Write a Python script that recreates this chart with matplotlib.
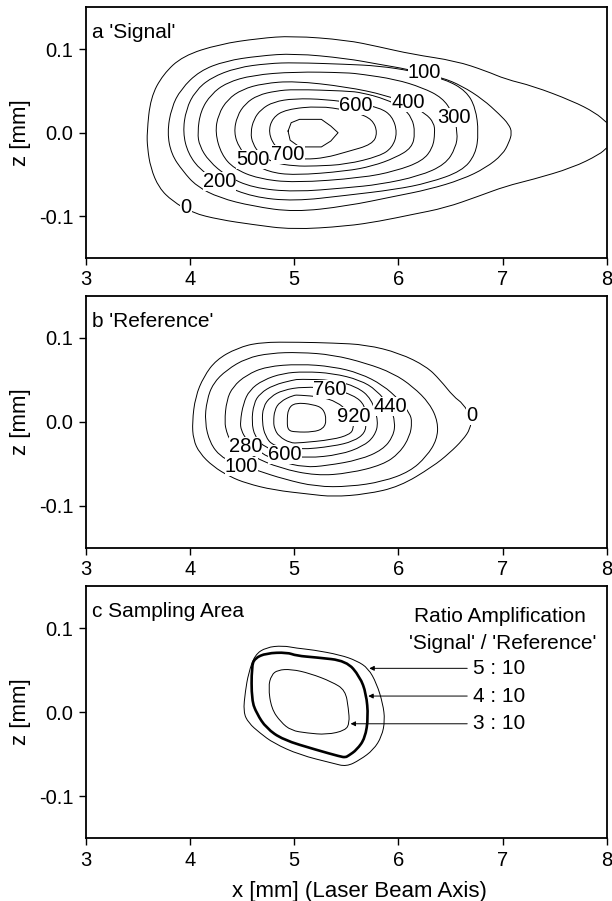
import numpy as np
import matplotlib
matplotlib.use("Agg")
import matplotlib.pyplot as plt
from matplotlib.path import Path
from matplotlib.patches import PathPatch

plt.rcParams['font.family'] = ['Liberation Sans', 'DejaVu Sans']

# ---- panel a : 'Signal' contours (x [mm], z [mm]) ----
sig_levels = [0, 100, 200, 300, 400, 500, 600, 700, 800]
sig_x = [
    [8.0, 7.89, 7.67, 7.29, 7.03, 6.84, 6.55, 6.13, 5.81, 5.50, 4.98, 4.66, 4.28, 3.93, 3.74, 3.62, 3.585,
     3.59, 3.62, 3.70, 3.83, 4.02, 4.28, 4.60, 4.98, 5.50, 5.82, 6.13, 6.45, 6.77, 7.03, 7.29, 7.67, 7.93, 8.0],
    [3.78, 3.82, 3.91, 4.09, 4.34, 4.66, 5.0, 5.5, 5.81, 6.09, 6.42, 6.61, 6.81, 6.97, 7.06, 7.09, 7.06, 7.0,
     6.84, 6.61, 6.29, 5.97, 5.5, 5.0, 4.6, 4.28, 4.06, 3.93, 3.82, 3.78],
    [3.93, 3.96, 4.05, 4.2, 4.45, 4.75, 5.0, 5.5, 5.81, 6.13, 6.45, 6.65, 6.74, 6.77, 6.74, 6.61, 6.29, 5.97,
     5.5, 5.0, 4.6, 4.3, 4.1, 3.98, 3.93],
    [4.07, 4.1, 4.2, 4.35, 4.6, 5.0, 5.5, 5.65, 5.97, 6.23, 6.42, 6.52, 6.57, 6.55, 6.45, 6.2, 5.82, 5.5, 5.0,
     4.6, 4.35, 4.18, 4.09, 4.07],
    [4.24, 4.27, 4.36, 4.5, 4.7, 5.0, 5.5, 5.88, 6.1, 6.26, 6.34, 6.35, 6.33, 6.23, 5.97, 5.65, 5.0, 4.65, 4.42,
     4.3, 4.24],
    [4.42, 4.45, 4.53, 4.65, 4.82, 5.0, 5.5, 5.65, 5.88, 6.04, 6.13, 6.16, 6.13, 5.97, 5.75, 5.5, 5.0, 4.75,
     4.58, 4.47, 4.42],
    [4.58, 4.61, 4.68, 4.8, 5.0, 5.3, 5.6, 5.82, 5.94, 5.99, 5.94, 5.82, 5.5, 5.2, 5.0, 4.8, 4.67, 4.6, 4.58],
    [4.75, 4.79, 4.92, 5.24, 5.5, 5.6, 5.75, 5.80, 5.75, 5.5, 5.3, 5.1, 4.95, 4.82, 4.75],
    [4.94, 4.97, 5.05, 5.26, 5.35, 5.42, 5.35, 5.26, 5.05, 4.96, 4.94],
]
sig_z = [
    [0.012, 0.024, 0.038, 0.056, 0.064, 0.074, 0.086, 0.094, 0.103, 0.111, 0.116, 0.113, 0.106, 0.092, 0.070,
     0.042, 0.0, -0.018, -0.042, -0.066, -0.082, -0.096, -0.104, -0.110, -0.116, -0.112, -0.106, -0.098,
     -0.090, -0.076, -0.064, -0.056, -0.042, -0.026, -0.018],
    [0.0, 0.03, 0.052, 0.074, 0.086, 0.092, 0.095, 0.089, 0.082, 0.076, 0.066, 0.056, 0.04, 0.022, 0.01, 0.0,
     -0.012, -0.026, -0.042, -0.056, -0.068, -0.076, -0.088, -0.095, -0.088, -0.078, -0.064, -0.046, -0.026, 0.0],
    [0.0, 0.028, 0.05, 0.066, 0.078, 0.083, 0.084, 0.082, 0.080, 0.074, 0.064, 0.05, 0.03, 0.0, -0.026, -0.046,
     -0.060, -0.068, -0.075, -0.082, -0.077, -0.062, -0.045, -0.025, 0.0],
    [0.0, 0.026, 0.046, 0.06, 0.069, 0.073, 0.072, 0.070, 0.064, 0.054, 0.042, 0.024, 0.0, -0.018, -0.038,
     -0.052, -0.062, -0.066, -0.071, -0.066, -0.052, -0.034, -0.016, 0.0],
    [0.0, 0.022, 0.04, 0.052, 0.059, 0.062, 0.055, 0.045, 0.034, 0.023, 0.012, 0.0, -0.018, -0.034, -0.046,
     -0.054, -0.060, -0.055, -0.043, -0.026, 0.0],
    [0.0, 0.02, 0.035, 0.045, 0.05, 0.052, 0.05, 0.048, 0.04, 0.03, 0.018, 0.0, -0.018, -0.03, -0.04, -0.046,
     -0.051, -0.047, -0.035, -0.018, 0.0],
    [0.0, 0.016, 0.028, 0.037, 0.041, 0.04, 0.035, 0.03, 0.02, 0.0, -0.018, -0.028, -0.038, -0.040, -0.040,
     -0.036, -0.026, -0.013, 0.0],
    [0.0, 0.018, 0.028, 0.032, 0.027, 0.024, 0.016, 0.0, -0.014, -0.023, -0.030, -0.032, -0.03, -0.018, 0.0],
    [0.002, 0.012, 0.016, 0.016, 0.008, 0.0, -0.01, -0.017, -0.017, -0.009, 0.002],
]

# ---- panel b : 'Reference' contours ----
ref_levels = [0, 100, 280, 440, 600, 760, 920, 1080]
ref_x = [
    [4.02, 4.05, 4.13, 4.25, 4.45, 4.67, 5.05, 5.37, 5.69, 6.01, 6.27, 6.40, 6.53, 6.62, 6.70, 6.69, 6.62,
     6.49, 6.33, 6.01, 5.69, 5.37, 5.15, 4.80, 4.54, 4.38, 4.22, 4.09, 4.03, 4.02],
    [4.14, 4.16, 4.22, 4.35, 4.54, 4.77, 5.05, 5.37, 5.69, 5.95, 6.14, 6.30, 6.38, 6.37, 6.27, 6.11, 5.85,
     5.53, 5.21, 4.90, 4.65, 4.40, 4.29, 4.19, 4.14],
    [4.33, 4.35, 4.41, 4.54, 4.73, 5.05, 5.37, 5.63, 5.85, 6.01, 6.11, 6.13, 6.11, 6.01, 5.85, 5.53, 5.21,
     4.86, 4.60, 4.45, 4.38, 4.35, 4.33],
    [4.48, 4.51, 4.57, 4.70, 4.89, 5.10, 5.37, 5.63, 5.79, 5.92, 5.97, 5.95, 5.85, 5.63, 5.31, 5.10, 4.86,
     4.67, 4.54, 4.49, 4.48],
    [4.59, 4.61, 4.67, 4.80, 4.99, 5.05, 5.37, 5.60, 5.74, 5.81, 5.77, 5.66, 5.44, 5.12, 4.91, 4.70, 4.62, 4.59],
    [4.69, 4.70, 4.77, 4.89, 5.09, 5.35, 5.57, 5.68, 5.69, 5.68, 5.57, 5.37, 5.05, 4.80, 4.72, 4.69],
    [4.80, 4.81, 4.86, 4.99, 5.05, 5.25, 5.41, 5.52, 5.56, 5.57, 5.53, 5.37, 5.05, 4.96, 4.85, 4.81, 4.80],
    [4.93, 4.94, 5.01, 5.18, 5.28, 5.31, 5.28, 5.18, 5.01, 4.94, 4.93],
]
ref_z = [
    [0.0, 0.03, 0.054, 0.074, 0.088, 0.095, 0.095, 0.094, 0.092, 0.082, 0.066, 0.05, 0.03, 0.022, 0.005,
     -0.008, -0.021, -0.037, -0.053, -0.077, -0.086, -0.089, -0.086, -0.081, -0.073, -0.065, -0.053, -0.037,
     -0.021, 0.0],
    [0.0, 0.026, 0.046, 0.062, 0.076, 0.082, 0.083, 0.080, 0.070, 0.058, 0.042, 0.022, 0.0, -0.021, -0.041,
     -0.059, -0.071, -0.077, -0.077, -0.068, -0.058, -0.047, -0.041, -0.025, 0.0],
    [0.0, 0.026, 0.042, 0.056, 0.066, 0.069, 0.066, 0.058, 0.044, 0.026, 0.010, 0.0, -0.017, -0.037, -0.051,
     -0.061, -0.064, -0.055, -0.041, -0.029, -0.021, -0.012, 0.0],
    [0.0, 0.022, 0.038, 0.050, 0.058, 0.060, 0.058, 0.050, 0.038, 0.018, 0.0, -0.017, -0.033, -0.045, -0.052,
     -0.054, -0.047, -0.037, -0.021, -0.01, 0.0],
    [0.0, 0.022, 0.034, 0.044, 0.050, 0.051, 0.050, 0.042, 0.028, 0.0, -0.017, -0.029, -0.039, -0.043, -0.039,
     -0.029, -0.017, 0.0],
    [0.0, 0.018, 0.030, 0.038, 0.042, 0.040, 0.032, 0.020, 0.0, -0.013, -0.023, -0.029, -0.033, -0.029,
     -0.017, 0.0],
    [0.0, 0.014, 0.024, 0.032, 0.032, 0.030, 0.024, 0.012, 0.002, -0.008, -0.015, -0.021, -0.025, -0.025,
     -0.017, -0.008, 0.0],
    [0.0, 0.016, 0.023, 0.021, 0.016, 0.002, -0.008, -0.012, -0.012, -0.010, 0.0],
]

# ---- panel c : sampling area for the amplification ratios ----
ratio_labels = ['5 : 10', '4 : 10', '3 : 10']
area_x = [
    [4.51, 4.53, 4.56, 4.62, 4.73, 4.89, 5.02, 5.18, 5.44, 5.60, 5.71, 5.79, 5.85, 5.87, 5.84, 5.76, 5.63,
     5.50, 5.37, 5.05, 4.80, 4.67, 4.56, 4.51],
    [4.59, 4.59, 4.62, 4.73, 4.93, 5.02, 5.21, 5.50, 5.63, 5.69, 5.71, 5.68, 5.60, 5.52, 5.49, 5.44, 5.21,
     4.89, 4.73, 4.64, 4.59],
    [4.75, 4.78, 4.84, 4.97, 5.15, 5.36, 5.49, 5.52, 5.53, 5.49, 5.31, 5.12, 4.97, 4.87, 4.78, 4.75],
]
area_z = [
    [0.0, 0.025, 0.046, 0.068, 0.077, 0.079, 0.076, 0.074, 0.068, 0.061, 0.052, 0.034, 0.010, -0.010, -0.029,
     -0.045, -0.057, -0.065, -0.061, -0.051, -0.037, -0.025, -0.013, 0.0],
    [0.014, 0.054, 0.064, 0.070, 0.071, 0.067, 0.065, 0.061, 0.042, 0.022, -0.006, -0.031, -0.045, -0.052,
     -0.054, -0.053, -0.045, -0.033, -0.019, -0.002, 0.014],
    [0.03, 0.044, 0.050, 0.051, 0.046, 0.036, 0.026, 0.004, -0.013, -0.022, -0.027, -0.025, -0.022, -0.012,
     0.004, 0.03],
]
area_lw = [0.7, 1.9, 0.7]


def draw_line(ax, xs, zs, lw=0.7, smooth=True):
    # quadratic Bezier through the midpoints of the read-off vertices
    p = np.column_stack([xs, zs])
    if not smooth:
        ax.plot(xs, zs, color='black', lw=lw)
        return
    closed = np.allclose(p[0], p[-1])
    if closed:
        p = p[:-1]
        mids = (p + np.roll(p, -1, axis=0)) / 2
        verts = [mids[-1]]
        codes = [Path.MOVETO]
        for i in range(len(p)):
            verts += [p[i], mids[i]]
            codes += [Path.CURVE3, Path.CURVE3]
    else:
        mids = (p[:-1] + p[1:]) / 2
        verts = [p[0], mids[0]]
        codes = [Path.MOVETO, Path.LINETO]
        for i in range(1, len(p) - 1):
            verts += [p[i], mids[i]]
            codes += [Path.CURVE3, Path.CURVE3]
        verts.append(p[-1])
        codes.append(Path.LINETO)
    ax.add_patch(PathPatch(Path(verts, codes), fc='none', ec='black', lw=lw))


fig = plt.figure(figsize=(6.12, 9.01), dpi=100)
rects = [[0.1405, 0.7137, 0.851, 0.278],
         [0.1405, 0.3918, 0.851, 0.2797],
         [0.1405, 0.0699, 0.851, 0.2797]]
axes = [fig.add_axes(r) for r in rects]

for ax in axes:
    ax.set_xlim(3, 8)
    ax.set_ylim(-0.15, 0.15)
    ax.set_xticks([3, 4, 5, 6, 7, 8])
    ax.set_yticks([-0.1, 0.0, 0.1])
    ax.set_yticklabels(['-0.1', '0.0', '0.1'])
    ax.tick_params(direction='out', length=5, width=1, labelsize=14.5, pad=4)
    for s in ax.spines.values():
        s.set_linewidth(1.3)
    ax.set_ylabel('z [mm]', fontsize=16, labelpad=6)

lab = dict(fontsize=14.5, ha='center', va='center', zorder=5,
           bbox=dict(fc='white', ec='none', pad=0.05))

# a
ax = axes[0]
for i, (xs, zs) in enumerate(zip(sig_x, sig_z)):
    draw_line(ax, xs, zs, smooth=(i < len(sig_x) - 1))
ax.text(0.012, 0.9, "a 'Signal'", transform=ax.transAxes, fontsize=15, va='center')
for t, (px, pz) in zip(['0', '100', '200', '300', '400', '500', '600', '700'],
                       [(3.96, -0.09), (6.25, 0.072), (4.28, -0.058), (6.535, 0.018),
                        (6.09, 0.036), (4.6, -0.032), (5.59, 0.032), (4.94, -0.026)]):
    ax.text(px, pz, t, **lab)

# b
ax = axes[1]
for xs, zs in zip(ref_x, ref_z):
    draw_line(ax, xs, zs)
ax.text(0.012, 0.9, "b 'Reference'", transform=ax.transAxes, fontsize=15, va='center')
for t, (px, pz) in zip(['0', '100', '280', '440', '600', '760', '920'],
                       [(6.70, 0.008), (4.49, -0.0525), (4.53, -0.0295), (5.92, 0.018),
                        (4.91, -0.039), (5.34, 0.039), (5.57, 0.006)]):
    ax.text(px, pz, t, **lab)

# c
ax = axes[2]
for xs, zs, w in zip(area_x, area_z, area_lw):
    draw_line(ax, xs, zs, lw=w)
ax.text(0.012, 0.9, "c Sampling Area", transform=ax.transAxes, fontsize=15, va='center')
ax.text(6.97, 0.114, 'Ratio Amplification', fontsize=15, ha='center', va='center')
ax.text(7.0, 0.082, "'Signal' / 'Reference'", fontsize=15, ha='center', va='center')
tips = [(5.72, 0.052), (5.71, 0.019), (5.54, -0.014)]
for t, (tx, tz) in zip(ratio_labels, tips):
    ax.annotate('', xy=(tx, tz), xytext=(6.66, tz),
                arrowprops=dict(arrowstyle='-|>', color='black', lw=0.7,
                                mutation_scale=7, shrinkA=0, shrinkB=0))
    ax.text(6.97, tz, t, fontsize=15, ha='center', va='center')
ax.set_xlabel('x [mm] (Laser Beam Axis)', fontsize=16, labelpad=8)
ax.xaxis.set_label_coords(0.526, -0.17)

fig.savefig('out.png', dpi=100)
